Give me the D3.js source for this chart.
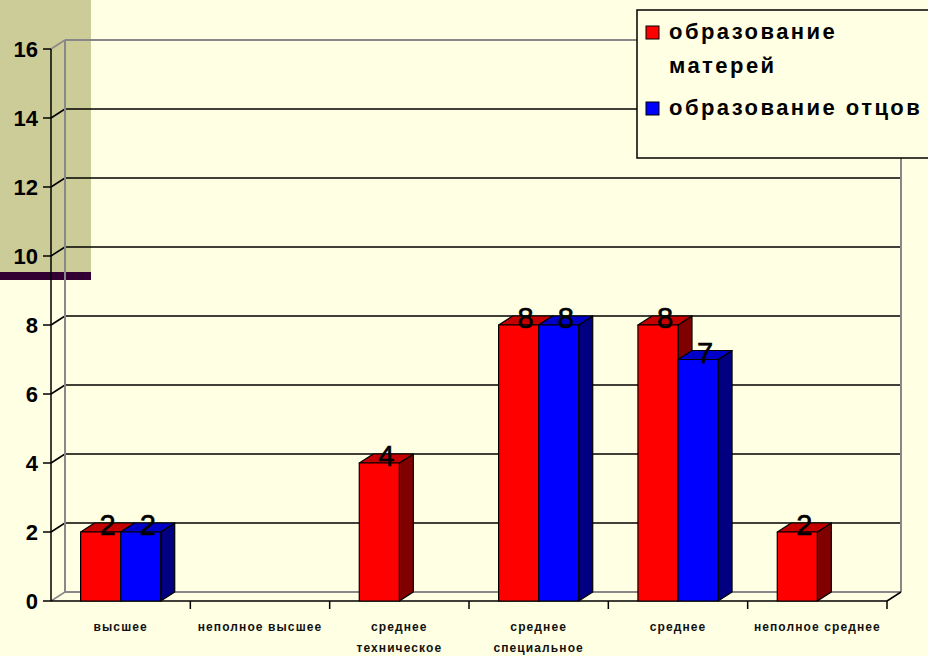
<!DOCTYPE html>
<html><head><meta charset="utf-8">
<script src="https://cdn.jsdelivr.net/npm/d3@7"></script>
<style>html,body{margin:0;padding:0;background:#FFFFE3;overflow:hidden}</style>
</head><body>
<svg id="chart" width="928" height="656"></svg>
<script>
const categories = [["высшее"], ["неполное высшее"], ["среднее", "техническое"], ["среднее", "специальное"], ["среднее"], ["неполное среднее"]];
const seriesNames = ["образование матерей", "образование отцов"];
const mothers = [2, null, 4, 8, 8, 2];
const fathers = [2, null, null, 8, 7, null];
const yTicks = [0, 2, 4, 6, 8, 10, 12, 14, 16];

(function () {
const W = 928, H = 656;
const svg = d3.select("#chart");
const FONT = "'Liberation Sans', Arial, sans-serif";
const pLeft = 51, pRight = 887, pBottom = 601, pTop = 49;
const DX = 14, DY = -9;

const x = d3.scaleBand().domain(d3.range(categories.length)).range([pLeft, pRight]).paddingInner(0.425).paddingOuter(0.2125);
const x1 = d3.scaleBand().domain([0, 1]).range([0, x.bandwidth()]);
const y = d3.scaleLinear().domain([0, 16]).range([pBottom, pTop]);
const colors = [
  {front: "#FF0000", top: "#C40000", side: "#800000"},
  {front: "#0000FF", top: "#0000C8", side: "#000080"}
];

svg.append("rect").attr("width", W).attr("height", H).attr("fill", "#FFFFE3");
svg.append("rect").attr("x", 0).attr("y", 0).attr("width", 91).attr("height", 272).attr("fill", "#CCCC99");
svg.append("rect").attr("x", 0).attr("y", 272).attr("width", 91).attr("height", 8).attr("fill", "#330033");

const g = svg.append("g");
yTicks.forEach(t => {
  const yy = y(t);
  const isEdge = (t === 16);
  const isZero = (t === 0);
  g.append("line").attr("x1", pLeft + DX).attr("x2", pRight + DX).attr("y1", yy + DY).attr("y2", yy + DY)
    .attr("stroke", (isEdge || isZero) ? "#888" : "#000").attr("stroke-width", isEdge || isZero ? 2 : 1.5);
  g.append("line").attr("x1", pLeft).attr("x2", pLeft + DX).attr("y1", yy).attr("y2", yy + DY)
    .attr("stroke", (isEdge || isZero) ? "#888" : "#000").attr("stroke-width", 1.5);
  g.append("line").attr("x1", pLeft - 8).attr("x2", pLeft).attr("y1", yy).attr("y2", yy)
    .attr("stroke", "#000").attr("stroke-width", 1.5);
});
g.append("line").attr("x1", pLeft + DX).attr("x2", pLeft + DX).attr("y1", y(16) + DY).attr("y2", y(0) + DY).attr("stroke", "#888").attr("stroke-width", 2);
g.append("line").attr("x1", pRight + DX).attr("x2", pRight + DX).attr("y1", y(16) + DY).attr("y2", y(0) + DY).attr("stroke", "#888").attr("stroke-width", 2);
g.append("line").attr("x1", pLeft).attr("x2", pLeft).attr("y1", y(16)).attr("y2", y(0)).attr("stroke", "#000").attr("stroke-width", 1.5);
g.append("line").attr("x1", pLeft).attr("x2", pRight).attr("y1", y(0)).attr("y2", y(0)).attr("stroke", "#000").attr("stroke-width", 1.5);
g.append("line").attr("x1", pRight).attr("x2", pRight + DX).attr("y1", y(0)).attr("y2", y(0) + DY).attr("stroke", "#000").attr("stroke-width", 1.5);
d3.range(1, categories.length + 1).forEach(i => {
  const xx = pLeft + i * x.step();
  g.append("line").attr("x1", xx).attr("x2", xx).attr("y1", y(0)).attr("y2", y(0) + 8).attr("stroke", "#000").attr("stroke-width", 1.5);
});

svg.append("g").selectAll("text").data(yTicks).join("text")
  .attr("x", 38).attr("y", d => y(d)).attr("dy", "0.36em").attr("text-anchor", "end")
  .attr("font-family", FONT).attr("font-weight", "bold").attr("font-size", 22).attr("fill", "#000")
  .text(d => d);

const series = [mothers, fathers];
const barsG = svg.append("g");
categories.forEach((c, i) => {
  series.forEach((s, k) => {
    const v = s[i];
    if (v == null) return;
    const x0 = x(i) + x1(k), w = x1.bandwidth();
    const yt = y(v), yb = y(0);
    const col = colors[k];
    const bg = barsG.append("g").attr("stroke", "#000").attr("stroke-width", 1.2).attr("stroke-linejoin", "round");
    bg.append("path").attr("d", `M${x0 + w},${yt} L${x0 + w + DX},${yt + DY} L${x0 + w + DX},${yb + DY} L${x0 + w},${yb} Z`).attr("fill", col.side);
    bg.append("path").attr("d", `M${x0},${yt} L${x0 + DX},${yt + DY} L${x0 + w + DX},${yt + DY} L${x0 + w},${yt} Z`).attr("fill", col.top);
    bg.append("rect").attr("x", x0).attr("y", yt).attr("width", w).attr("height", yb - yt).attr("fill", col.front);
  });
});
categories.forEach((c, i) => {
  series.forEach((s, k) => {
    const v = s[i];
    if (v == null) return;
    const cx = x(i) + x1(k) + x1.bandwidth() / 2 + DX / 2;
    svg.append("text").attr("x", cx).attr("y", y(v) + 3).attr("text-anchor", "middle")
      .attr("font-family", FONT).attr("font-size", 29).attr("fill", "#000")
      .attr("stroke", "#000").attr("stroke-width", 0.6).text(v);
  });
});

categories.forEach((c, i) => {
  const cx = x(i) + x.bandwidth() / 2;
  const t = svg.append("text").attr("text-anchor", "middle").attr("font-family", FONT)
    .attr("font-weight", "bold").attr("font-size", 12).attr("letter-spacing", 1.1).attr("fill", "#111");
  c.forEach((line, j) => {
    t.append("tspan").attr("x", cx).attr("y", 631 + j * 21).text(line);
  });
});

const lg = svg.append("g");
lg.append("rect").attr("x", 637).attr("y", 10).attr("width", 300).attr("height", 148)
  .attr("fill", "#FFFFE3").attr("stroke", "#000").attr("stroke-width", 1.5);
const legendItems = [
  {color: colors[0].front, lines: ["образование", "матерей"], y: 39},
  {color: colors[1].front, lines: ["образование отцов"], y: 115}
];
legendItems.forEach(it => {
  lg.append("rect").attr("x", 646).attr("y", it.y - 13).attr("width", 13).attr("height", 13)
    .attr("fill", it.color).attr("stroke", "#000").attr("stroke-width", 1);
  const t = lg.append("text").attr("font-family", FONT).attr("font-weight", "bold").attr("font-size", 22)
    .attr("letter-spacing", 2.45).attr("fill", "#000");
  it.lines.forEach((l, j) => t.append("tspan").attr("x", 669).attr("y", it.y + j * 34).text(l));
});
})();
</script>
</body></html>
